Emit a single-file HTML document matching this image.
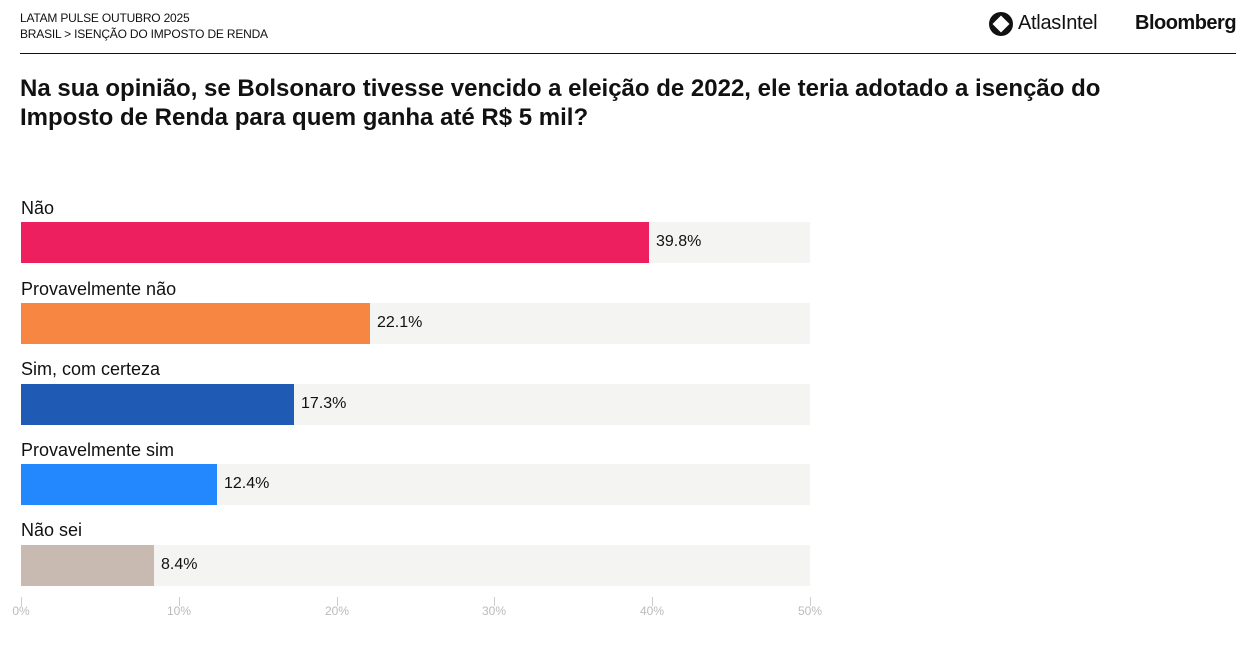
<!DOCTYPE html>
<html><head><meta charset="utf-8"><style>
body{margin:0;width:1247px;height:662px;background:#fff;font-family:"Liberation Sans",sans-serif;color:#111;position:relative;overflow:hidden}
.a{position:absolute}
.hdr{font-size:12px;line-height:16px;left:20px;top:10px;color:#111;letter-spacing:-0.2px}
.title{left:20px;top:74px;font-size:24px;font-weight:bold;line-height:29px;letter-spacing:0px;width:1105px}
.lab{font-size:18px;left:21px}
.bg{left:21px;width:789px;height:41px;background:#f4f4f2}
.val{font-size:16px}
.tick{width:1px;height:9px;background:#ccc;top:597px}
.tl{font-size:12px;color:#bbb;top:604px;width:40px;text-align:center}
</style></head><body>
<div class="a hdr">LATAM PULSE OUTUBRO 2025<br>BRASIL &gt; ISENÇÃO DO IMPOSTO DE RENDA</div>
<div class="a" style="left:989px;top:12px;width:24px;height:24px;border-radius:50%;background:#111"></div>
<div class="a" style="left:995px;top:18px;width:12px;height:12px;background:#fff;transform:rotate(45deg)"></div>
<div class="a" style="left:1018px;top:12px;font-size:20px;letter-spacing:-0.3px">AtlasIntel</div>
<div class="a" style="left:1135px;top:12px;font-size:20px;font-weight:bold;letter-spacing:-0.5px">Bloomberg</div>
<div class="a" style="left:20px;top:53px;width:1216px;height:1px;background:#111"></div>
<div class="a title">Na sua opinião, se Bolsonaro tivesse vencido a eleição de 2022, ele teria adotado a isenção do Imposto de Renda para quem ganha até R$ 5 mil?</div>

<div class="a lab" style="top:198px">Não</div>
<div class="a bg" style="top:222px"></div><div class="a" style="left:21px;top:222px;width:628px;height:41px;background:#ee1f5f"></div>
<div class="a val" style="left:656px;top:233px">39.8%</div>

<div class="a lab" style="top:279px">Provavelmente não</div>
<div class="a bg" style="top:303px"></div><div class="a" style="left:21px;top:303px;width:349px;height:41px;background:#f68641"></div>
<div class="a val" style="left:377px;top:314px">22.1%</div>

<div class="a lab" style="top:359px">Sim, com certeza</div>
<div class="a bg" style="top:384px"></div><div class="a" style="left:21px;top:384px;width:273px;height:41px;background:#1f5bb5"></div>
<div class="a val" style="left:301px;top:395px">17.3%</div>

<div class="a lab" style="top:440px">Provavelmente sim</div>
<div class="a bg" style="top:464px"></div><div class="a" style="left:21px;top:464px;width:196px;height:41px;background:#2388fe"></div>
<div class="a val" style="left:224px;top:475px">12.4%</div>

<div class="a lab" style="top:520px">Não sei</div>
<div class="a bg" style="top:545px"></div><div class="a" style="left:21px;top:545px;width:133px;height:41px;background:#c8b9b1"></div>
<div class="a val" style="left:161px;top:556px">8.4%</div>

<div class="a tick" style="left:21px"></div><div class="a tl" style="left:1px">0%</div>
<div class="a tick" style="left:179px"></div><div class="a tl" style="left:159px">10%</div>
<div class="a tick" style="left:337px"></div><div class="a tl" style="left:317px">20%</div>
<div class="a tick" style="left:494px"></div><div class="a tl" style="left:474px">30%</div>
<div class="a tick" style="left:652px"></div><div class="a tl" style="left:632px">40%</div>
<div class="a tick" style="left:810px"></div><div class="a tl" style="left:790px">50%</div>
</body></html>
